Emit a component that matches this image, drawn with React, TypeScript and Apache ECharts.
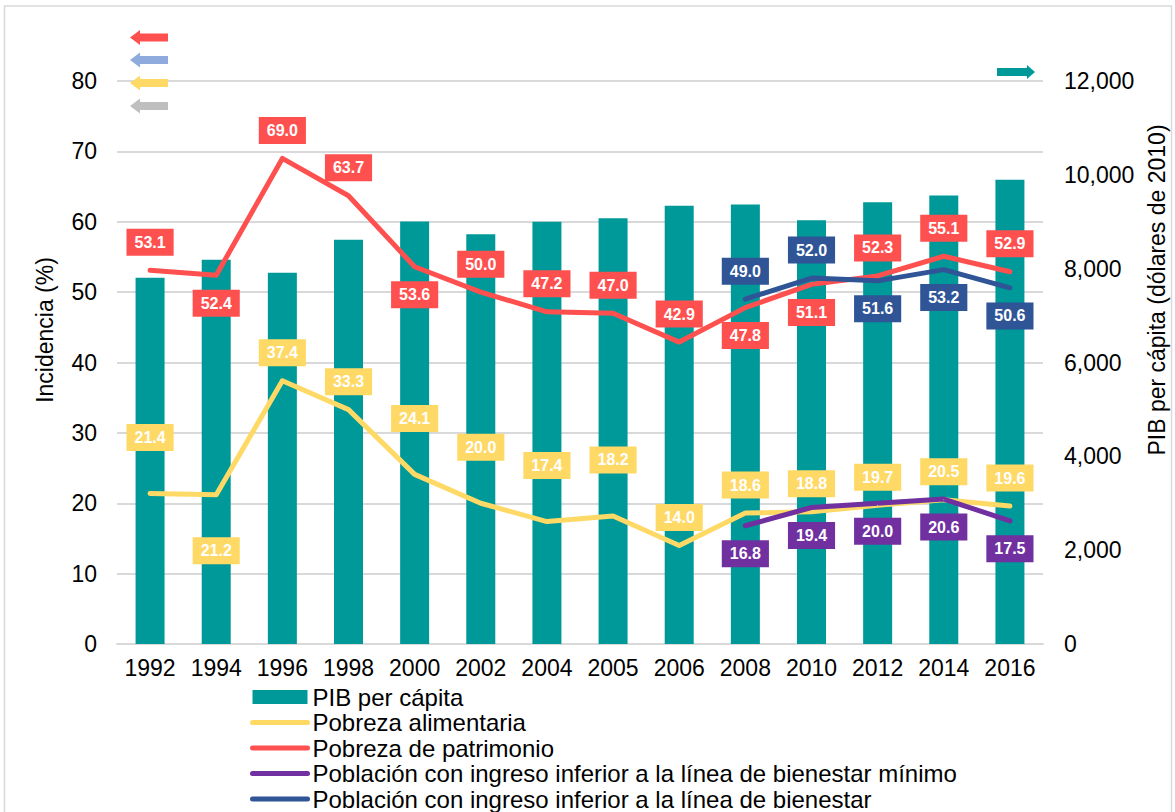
import React, { useEffect, useRef } from "react";
import * as echarts from "echarts";

const years = ["1992", "1994", "1996", "1998", "2000", "2002", "2004", "2005", "2006", "2008", "2010", "2012", "2014", "2016"];
const pibPerCapita = [7805, 8188, 7911, 8614, 9004, 8736, 8998, 9077, 9343, 9367, 9034, 9418, 9558, 9893];
const pobrezaAlimentaria = [21.4, 21.2, 37.4, 33.3, 24.1, 20.0, 17.4, 18.2, 14.0, 18.6, 18.8, 19.7, 20.5, 19.6];
const pobrezaPatrimonio = [53.1, 52.4, 69.0, 63.7, 53.6, 50.0, 47.2, 47.0, 42.9, 47.8, 51.1, 52.3, 55.1, 52.9];
const bienestarMinimo = [null, null, null, null, null, null, null, null, null, 16.8, 19.4, 20.0, 20.6, 17.5];
const bienestar = [null, null, null, null, null, null, null, null, null, 49.0, 52.0, 51.6, 53.2, 50.6];
const leftTicks = { min: 0, max: 80, interval: 10 };
const rightTicks = { min: 0, max: 12000, interval: 2000 };

// label placement (rows above -/below + the point), styling only
const rowsAlimentaria = [-2, 2, -1, -1, -2, -2, -2, -2, -1, -1, -1, -1, -1, -1];
const rowsPatrimonio = [-1, 1, -1, -1, 1, -1, -1, -1, -1, 1, 1, -1, -1, -1];
const rowsMinimo = [0, 0, 0, 0, 0, 0, 0, 0, 0, 1, 1, 1, 1, 1];
const rowsBienestar = [0, 0, 0, 0, 0, 0, 0, 0, 0, -1, -1, 1, 1, 1];

const NAMES = {
  pib: "PIB per cápita",
  ali: "Pobreza alimentaria",
  pat: "Pobreza de patrimonio",
  min: "Población con ingreso inferior a la línea de bienestar mínimo",
  bie: "Población con ingreso inferior a la línea de bienestar",
};

const COLORS = {
  pib: "#009999",
  ali: "#FFD966",
  pat: "#FF5050",
  min: "#7030A0",
  bie: "#2F5597",
};

const FONT = "'Liberation Sans', Arial, sans-serif";
const ROW = 28;

function lineSeries(name: string, color: string, values: (number | null)[], rows: number[]) {
  return {
    type: "line",
    name,
    yAxisIndex: 0,
    color,
    symbol: "circle",
    symbolSize: 1,
    itemStyle: { color },
    lineStyle: { color, width: 5, cap: "round", join: "round" },
    data: values.map((v, i) =>
      v == null ? null : { value: v, label: { offset: [0, rows[i] * ROW] } }
    ),
    label: {
      show: true,
      position: "inside",
      formatter: (p: any) => Number(p.value).toFixed(1),
      color: "#fff",
      fontFamily: FONT,
      fontWeight: "bold",
      fontSize: 16,
      lineHeight: 18,
      backgroundColor: color,
      padding: [5, 8, 4, 8],
    },
    z: 3,
  };
}

function leftArrow(cy: number, color: string) {
  return {
    type: "polygon",
    shape: {
      points: [
        [130, cy],
        [140, cy - 7.5],
        [140, cy - 4],
        [168, cy - 4],
        [168, cy + 4],
        [140, cy + 4],
        [140, cy + 7.5],
      ],
    },
    style: { fill: color },
    z: 10,
  };
}

export default function App() {
  const ref = useRef<HTMLDivElement>(null);
  useEffect(() => {
    if (!ref.current) return;
    const chart = echarts.init(ref.current, null, { renderer: "svg" });
    chart.setOption({
      animation: false,
      backgroundColor: "#fff",
      grid: { left: 117, right: 132, top: 81, height: 563, containLabel: false },
      xAxis: {
        type: "category",
        data: years,
        axisLine: { show: true, lineStyle: { color: "#D9D9D9", width: 2 } },
        axisTick: { show: false },
        axisLabel: { color: "#000", fontFamily: FONT, fontSize: 23, margin: 12, interval: 0, hideOverlap: false },
      },
      yAxis: [
        {
          type: "value",
          position: "left",
          ...leftTicks,
          axisLine: { show: false },
          axisTick: { show: false },
          splitLine: { show: true, lineStyle: { color: "#D9D9D9", width: 2 } },
          axisLabel: { color: "#000", fontFamily: FONT, fontSize: 23, margin: 20 },
        },
        {
          type: "value",
          position: "right",
          ...rightTicks,
          axisLine: { show: false },
          axisTick: { show: false },
          splitLine: { show: false },
          axisLabel: {
            color: "#000",
            fontFamily: FONT,
            fontSize: 23,
            margin: 21,
            formatter: (v: number) => v.toLocaleString("en-US"),
          },
        },
      ],
      legend: {
        orient: "vertical",
        left: 250,
        top: 685,
        height: 140,
        padding: 0,
        itemWidth: 55,
        itemHeight: 14,
        itemGap: 1.5,
        textStyle: { color: "#000", fontFamily: FONT, fontSize: 24, lineHeight: 24 },
        itemStyle: { borderWidth: 0 },
        lineStyle: { width: 5, cap: "round" },
        data: [
          { name: NAMES.pib, icon: "rect" },
          { name: NAMES.ali, itemStyle: { opacity: 0 } },
          { name: NAMES.pat, itemStyle: { opacity: 0 } },
          { name: NAMES.min, itemStyle: { opacity: 0 } },
          { name: NAMES.bie, itemStyle: { opacity: 0 } },
        ],
      },
      graphic: [
        {
          type: "rect",
          shape: { x: 4.5, y: 6, width: 1167, height: 830 },
          style: { fill: "none", stroke: "#D9D9D9", lineWidth: 1.5 },
          silent: true,
          z: 0,
        },
        leftArrow(37.5, "#FF5050"),
        leftArrow(60, "#8FAADC"),
        leftArrow(83, "#FFD966"),
        leftArrow(106, "#BFBFBF"),
        {
          type: "polygon",
          shape: {
            points: [
              [997, 68],
              [1027, 68],
              [1027, 65],
              [1035, 72],
              [1027, 79],
              [1027, 76],
              [997, 76],
            ],
          },
          style: { fill: "#009999" },
          z: 10,
        },
        {
          type: "text",
          x: 45,
          y: 330,
          rotation: Math.PI / 2,
          style: {
            text: "Incidencia (%)",
            fill: "#000",
            font: `23px ${FONT}`,
            align: "center",
            verticalAlign: "middle",
          },
        },
        {
          type: "text",
          x: 1157,
          y: 290,
          rotation: Math.PI / 2,
          style: {
            text: "PIB per cápita (dólares de 2010)",
            fill: "#000",
            font: `23px ${FONT}`,
            align: "center",
            verticalAlign: "middle",
          },
        },
      ],
      series: [
        {
          type: "bar",
          name: NAMES.pib,
          yAxisIndex: 1,
          data: pibPerCapita,
          barWidth: 29,
          itemStyle: { color: COLORS.pib },
          z: 2,
        },
        lineSeries(NAMES.ali, COLORS.ali, pobrezaAlimentaria, rowsAlimentaria),
        lineSeries(NAMES.pat, COLORS.pat, pobrezaPatrimonio, rowsPatrimonio),
        lineSeries(NAMES.min, COLORS.min, bienestarMinimo, rowsMinimo),
        lineSeries(NAMES.bie, COLORS.bie, bienestar, rowsBienestar),
      ],
    });
    return () => chart.dispose();
  }, []);
  return (
    <div
      ref={ref}
      style={{ position: "absolute", left: 0, top: 0, width: 1175, height: 812 }}
    />
  );
}
